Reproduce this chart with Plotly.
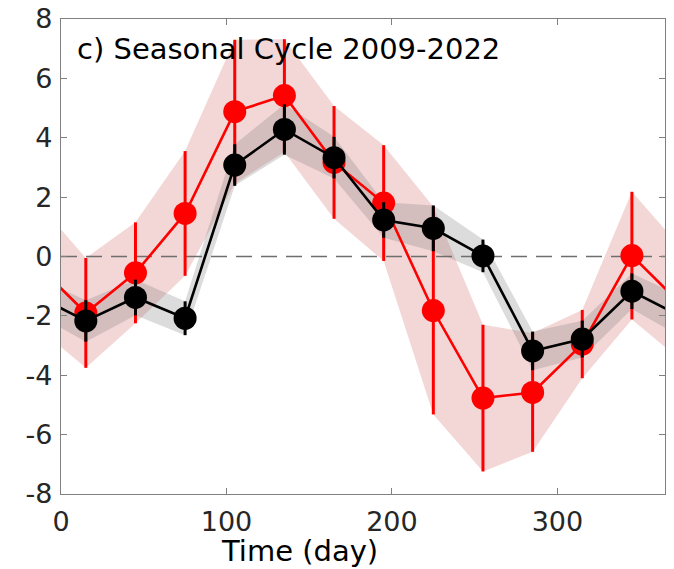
import plotly.graph_objects as go

# ---- data ----
days = [15, 45, 75, 105, 135, 165, 195, 225, 255, 285, 315, 345]
red_vals = [-1.90, -0.55, 1.45, 4.88, 5.42, 3.17, 1.80, -1.82, -4.77, -4.58, -2.95, 0.03]
red_err = [1.85, 1.70, 2.10, 2.42, 1.90, 1.90, 1.95, 3.50, 2.47, 2.00, 1.15, 2.15]
black_vals = [-2.17, -1.38, -2.08, 3.08, 4.28, 3.33, 1.23, 0.95, 0.02, -3.18, -2.78, -1.17]
black_err = [0.70, 0.60, 0.57, 0.70, 0.85, 0.70, 0.60, 0.77, 0.55, 0.65, 0.62, 0.60]
period = 365
x_ticks = [0, 100, 200, 300]
x_ticktext = ["0", "100", "200", "300"]
y_ticks = [-8, -6, -4, -2, 0, 2, 4, 6, 8]
y_ticktext = ["-8", "-6", "-4", "-2", "0", "2", "4", "6", "8"]
zero_level = 0
panel_title = "c) Seasonal Cycle 2009-2022"
x_title = "Time (day)"

# periodic extension (wrap-around) for lines and bands
def wrap(xs, ys):
    return [xs[-1] - period] + xs + [xs[0] + period], [ys[-1]] + ys + [ys[0]]

FONT = "DejaVu Sans, Liberation Sans, Arial, sans-serif"

fig = go.Figure()

def band(vals, err, fillcolor):
    up = [v + e for v, e in zip(vals, err)]
    lo = [v - e for v, e in zip(vals, err)]
    xu, yu = wrap(days, up)
    xl, yl = wrap(days, lo)
    fig.add_trace(go.Scatter(
        x=xu + xl[::-1], y=yu + yl[::-1], fill="toself", fillcolor=fillcolor,
        line=dict(width=0), mode="lines", hoverinfo="skip", showlegend=False))

band(red_vals, red_err, "rgba(215,120,120,0.30)")
band(black_vals, black_err, "rgba(120,120,120,0.26)")

# zero dashed line
fig.add_trace(go.Scatter(
    x=[0, period], y=[zero_level, zero_level], mode="lines",
    line=dict(color="#6e6e6e", width=1.6, dash="16px,9px"),
    hoverinfo="skip", showlegend=False))

def series(vals, err, color):
    xw, yw = wrap(days, vals)
    fig.add_trace(go.Scatter(x=xw, y=yw, mode="lines",
                             line=dict(color=color, width=2.6),
                             showlegend=False, hoverinfo="skip"))
    fig.add_trace(go.Scatter(
        x=days, y=vals, mode="markers",
        marker=dict(color=color, size=23, line=dict(width=0)),
        error_y=dict(type="data", array=err, visible=True, color=color,
                     thickness=3, width=0),
        showlegend=False))

series(red_vals, red_err, "#ff0000")
series(black_vals, black_err, "#000000")

axis_common = dict(
    showline=True, mirror="ticks", linecolor="#808080", linewidth=1.2,
    ticks="inside", ticklen=6, tickcolor="#808080", tickwidth=1,
    showgrid=False, zeroline=False, automargin=False,
    ticklabeloverflow="allow",
    tickfont=dict(family=FONT, size=27, color="#262626"),
)

fig.update_layout(
    width=674, height=569,
    margin=dict(l=61, r=9, t=19, b=75),
    paper_bgcolor="white", plot_bgcolor="white",
    xaxis=dict(range=[0, period], tickvals=x_ticks, ticktext=x_ticktext,
               ticklabelstandoff=3, **axis_common),
    yaxis=dict(range=[-8, 8], tickvals=y_ticks, ticktext=y_ticktext,
               ticklabelstandoff=2, **axis_common),
    annotations=[
        dict(text=panel_title, x=0.024, y=0.937, xref="paper", yref="paper",
             xanchor="left", yanchor="middle", showarrow=False,
             font=dict(family=FONT, size=29, color="black")),
        dict(text=x_title, x=0.395, y=-0.121, xref="paper", yref="paper",
             xanchor="center", yanchor="middle", showarrow=False,
             font=dict(family=FONT, size=29, color="black")),
    ],
)

# remove the browser's default 8px body margin so the figure fills the window
fig.write_html("out.html", config={"displayModeBar": False},
               post_script="document.body.style.margin='0px';")
